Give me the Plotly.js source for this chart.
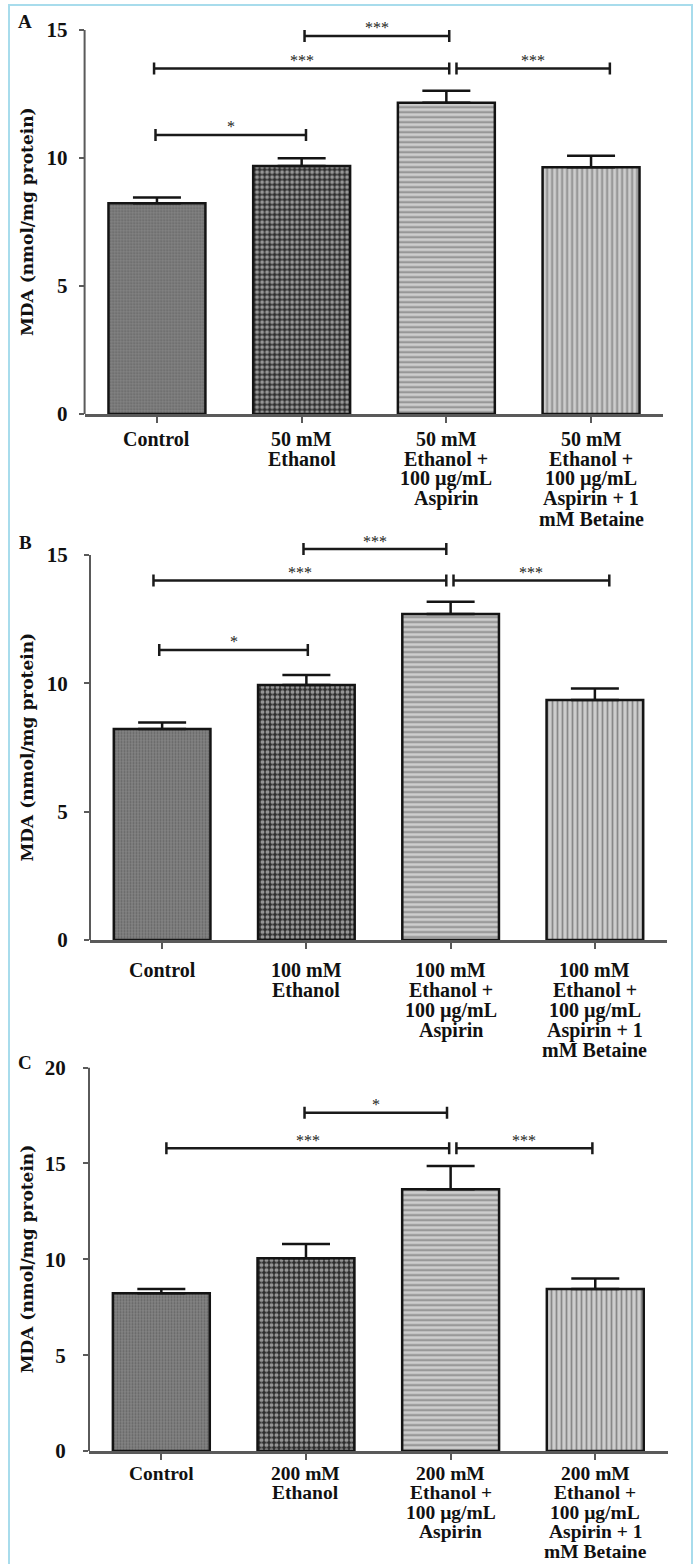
<!DOCTYPE html>
<html>
<head>
<meta charset="utf-8">
<script src="https://cdn.plot.ly/plotly-3.0.1.min.js"></script>
<style>html,body{margin:0;padding:0;background:#fff;}#chart{width:696px;height:1564px;}</style>
</head>
<body>
<div id="chart"></div>
<script>
// ---------- data ----------
const labelsA = ['Control', '50 mM<br>Ethanol', '50 mM<br>Ethanol +<br>100 µg/mL<br>Aspirin', '50 mM<br>Ethanol +<br>100 µg/mL<br>Aspirin + 1<br>mM Betaine'];
const labelsB = ['Control', '100 mM<br>Ethanol', '100 mM<br>Ethanol +<br>100 µg/mL<br>Aspirin', '100 mM<br>Ethanol +<br>100 µg/mL<br>Aspirin + 1<br>mM Betaine'];
const labelsC = ['Control', '200 mM<br>Ethanol', '200 mM<br>Ethanol +<br>100 µg/mL<br>Aspirin', '200 mM<br>Ethanol +<br>100 µg/mL<br>Aspirin + 1<br>mM Betaine'];

const meanA = [8.23, 9.69, 12.16, 9.64];
const semA  = [0.23, 0.30, 0.47, 0.45];
const meanB = [8.22, 9.93, 12.70, 9.35];
const semB  = [0.25, 0.39, 0.48, 0.45];
const meanC = [8.23, 10.05, 13.65, 8.45];
const semC  = [0.22, 0.75, 1.22, 0.55];

// significance brackets: left end, right end (category index), height, label
const sigA_x0 = [1.02, -0.02, 2.07, -0.01];
const sigA_x1 = [2.02, 2.02, 3.13, 1.03];
const sigA_y  = [14.77, 13.50, 13.50, 10.90];
const sigA_t  = ['***', '***', '***', '*'];
const sigB_x0 = [0.98, -0.06, 2.02, -0.02];
const sigB_x1 = [1.97, 1.97, 3.10, 1.01];
const sigB_y  = [15.23, 14.00, 14.00, 11.30];
const sigB_t  = ['***', '***', '***', '*'];
const sigC_x0 = [0.99, 0.035, 2.04];
const sigC_x1 = [1.975, 1.99, 2.98];
const sigC_y  = [17.65, 15.79, 15.79];
const sigC_t  = ['*', '***', '***'];

const yTicksAB = [0, 5, 10, 15];
const yTicksC  = [0, 5, 10, 15, 20];
const panelLetters = ['A', 'B', 'C'];
const yTitle = 'MDA (nmol/mg protein)';

// ---------- style ----------
const W = 696, H = 1564;
const px = v => v / W;
const py = v => 1 - v / H;
const serif = 'Liberation Serif, Times New Roman, serif';
const barBg = ['#838383', '#2c2c2c', '#cdcdcd', '#cdcdcd'];
const barFg = ['#5e5e5e', '#e8e8e8', '#8a8a8a', '#8a8a8a'];
const barShape = ['.', '.', '-', '|'];
const barSize = [3, 5, 5, 5];
const barSol = [0.35, 0.5, 0.35, 0.35];

const panels = [
  {labels: labelsA, mean: meanA, sem: semA, sx0: sigA_x0, sx1: sigA_x1, sy: sigA_y, st: sigA_t,
   ticks: yTicksAB, yTop: 15, yMax: 15.6, x0: 84.6, x1: 663.4, yBot: 414, yMaxPx: 414 - 15.6 * 25.6,
   labOff: 25, labGap: 20, labSize: 20, letterY: 22, standoff: 7},
  {labels: labelsB, mean: meanB, sem: semB, sx0: sigB_x0, sx1: sigB_x1, sy: sigB_y, st: sigB_t,
   ticks: yTicksAB, yTop: 15, yMax: 15.6, x0: 90, x1: 667, yBot: 940, yMaxPx: 940 - 15.6 * 25.67,
   labOff: 30, labGap: 20, labSize: 20, letterY: 542, standoff: 12},
  {labels: labelsC, mean: meanC, sem: semC, sx0: sigC_x0, sx1: sigC_x1, sy: sigC_y, st: sigC_t,
   ticks: yTicksC, yTop: 20, yMax: 20, x0: 89, x1: 667.6, yBot: 1451, yMaxPx: 1067.6,
   labOff: 22, labGap: 19.5, labSize: 19.5, letterY: 1062, standoff: 13}
];

const traces = [];
const shapes = [];
const annotations = [];
const layout = {
  width: W, height: H,
  margin: {l: 0, r: 0, t: 0, b: 0},
  paper_bgcolor: '#ffffff', plot_bgcolor: 'rgba(0,0,0,0)',
  showlegend: false,
  font: {family: serif, color: '#111'},
  bargap: 0.33
};

panels.forEach((p, k) => {
  const n = k === 0 ? '' : String(k + 1);
  const xa = 'x' + n, ya = 'y' + n;
  traces.push({
    type: 'bar', x: p.labels, y: p.mean, xaxis: xa, yaxis: ya,
    marker: {
      color: barBg,
      line: {color: '#141414', width: 2.5},
      pattern: {shape: barShape, fgcolor: barFg, size: barSize, solidity: barSol, fillmode: 'overlay'}
    },
    error_y: {type: 'data', symmetric: false, array: p.sem, arrayminus: p.sem.map(() => 0),
              color: '#141414', thickness: 2.5, width: 24},
    hoverinfo: 'x+y'
  });
  layout['xaxis' + n] = {
    domain: [px(p.x0), px(p.x1)], anchor: ya, type: 'category',
    range: [-0.5, 3.5], showline: true, linecolor: '#5a5a5a', linewidth: 2.5,
    ticks: 'outside', ticklen: 6, tickwidth: 2, tickcolor: '#5a5a5a',
    showticklabels: false, showgrid: false, zeroline: false, fixedrange: true
  };
  layout['yaxis' + n] = {
    domain: [py(p.yBot), py(p.yMaxPx)], anchor: xa,
    range: [0, p.yMax], tickvals: p.ticks, ticks: 'outside', ticklen: 5, tickwidth: 2,
    tickcolor: '#5a5a5a', showline: false, showgrid: false, zeroline: false,
    ticklabelstandoff: p.standoff,
    tickfont: {family: serif, size: 21, color: '#111', weight: 'bold'}, fixedrange: true
  };
  // y axis line up to the top tick
  shapes.push({type: 'line', xref: xa + ' domain', yref: ya, x0: 0, x1: 0, y0: 0, y1: p.yTop,
               line: {color: '#5a5a5a', width: 2}});
  // significance brackets
  p.sy.forEach((yy, i) => {
    const lc = {color: '#1a1a1a', width: 2.5};
    shapes.push({type: 'line', xref: xa, yref: ya, x0: p.sx0[i], x1: p.sx1[i], y0: yy, y1: yy, line: lc});
    [p.sx0[i], p.sx1[i]].forEach(xe => {
      shapes.push({type: 'line', xref: xa, yref: ya, x0: xe, x1: xe, ysizemode: 'pixel', yanchor: yy,
                   y0: -6, y1: 6, line: lc});
    });
    annotations.push({xref: xa, yref: ya, x: (p.sx0[i] + p.sx1[i]) / 2, y: yy, yanchor: 'middle',
                      yshift: 8, text: p.st[i], showarrow: false,
                      font: {family: serif, size: 16, color: '#222'}});
  });
  // category labels, one line at a time
  p.labels.forEach((lab, i) => {
    lab.split('<br>').forEach((line, j) => {
      annotations.push({xref: xa, yref: ya + ' domain', x: i, y: 0, yanchor: 'middle',
                        yshift: -(p.labOff + p.labGap * j), text: line, showarrow: false,
                        font: {family: serif, size: p.labSize, color: '#111', weight: 'bold'}});
    });
  });
  // y axis title
  annotations.push({xref: 'paper', yref: ya + ' domain', x: px(27), y: 0.5 * (p.yTop / p.yMax),
                    xanchor: 'center', yanchor: 'middle', textangle: -90, text: yTitle,
                    showarrow: false, font: {family: 'DejaVu Serif, serif', size: 17, color: '#111', weight: 'bold'}});
  // panel letter
  annotations.push({xref: 'paper', yref: 'paper', x: px(25), y: py(p.letterY), xanchor: 'center',
                    yanchor: 'middle', text: panelLetters[k], showarrow: false,
                    font: {family: serif, size: 19, color: '#111', weight: 'bold'}});
});

// light blue frame
shapes.push({type: 'rect', xref: 'paper', yref: 'paper', x0: px(9), x1: px(692), y0: -0.01, y1: py(5),
             line: {color: '#a8dcec', width: 2}, fillcolor: 'rgba(0,0,0,0)'});

layout.shapes = shapes;
layout.annotations = annotations;
Plotly.newPlot('chart', traces, layout, {staticPlot: true});
</script>
</body>
</html>
